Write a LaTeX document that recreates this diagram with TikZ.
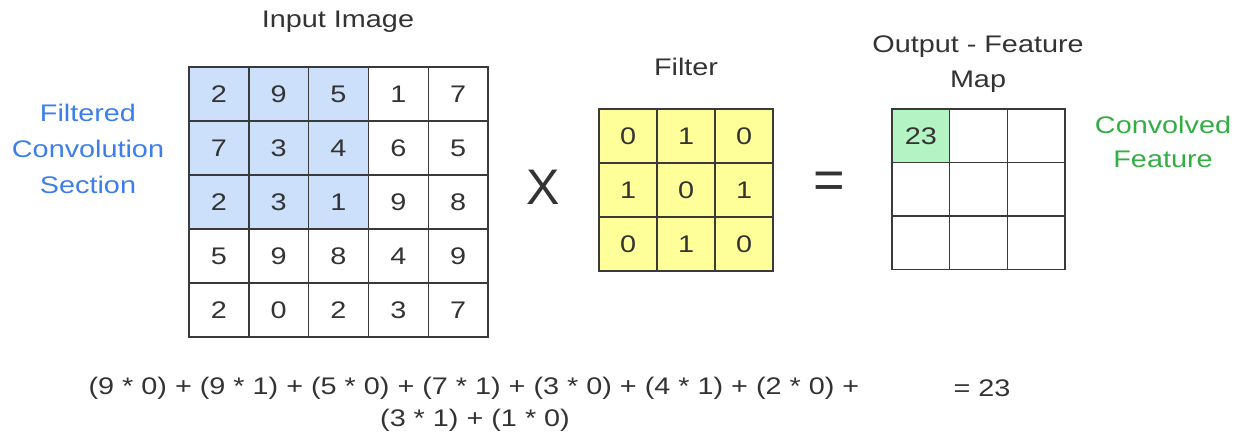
\documentclass[tikz,border=0pt]{standalone}
\usepackage{fontspec}
\setmainfont{Liberation Sans}
\usepackage{graphicx}
\definecolor{txt}{HTML}{333333}
\definecolor{gridc}{HTML}{3A3A3A}
\definecolor{bluefill}{HTML}{CCE0FC}
\definecolor{yellowfill}{HTML}{FFFF99}
\definecolor{greenfill}{HTML}{B3F3C4}
\definecolor{bluetxt}{HTML}{3D7EEA}
\definecolor{greentxt}{HTML}{33AE44}
\newcommand{\wtxt}[1]{\scalebox{1.2}[1]{#1}}
\newcommand{\fs}{\fontsize{24pt}{36pt}\selectfont}
\begin{document}
\begin{tikzpicture}[x=1pt,y=-1pt,
  cellbox/.style={draw=gridc,line width=1.4pt,minimum width=#1,inner sep=0pt,text=txt,font=\fs},
  lbl/.style={text=txt,font=\fs,inner sep=0pt,align=center}]
\useasboundingbox (0,0) rectangle (1249,438);
% input image 5x5
\foreach \r/\row in {1/{2,9,5,1,7},2/{7,3,4,6,5},3/{2,3,1,9,8},4/{5,9,8,4,9},5/{2,0,2,3,7}}{
  \foreach \v [count=\c] in \row {
    \pgfmathtruncatemacro{\isin}{(\r<4)&&(\c<4)}
    \ifnum\isin=1 \def\fc{bluefill}\else\def\fc{white}\fi
    \node[cellbox=59.8pt,minimum height=54pt,fill=\fc] (in-\r-\c) at ({189+59.8*(\c-0.5)},{67+54*(\r-0.5)}) {\wtxt{\v}};
  }
}
% filter 3x3
\foreach \r/\row in {1/{0,1,0},2/{1,0,1},3/{0,1,0}}{
  \foreach \v [count=\c] in \row {
    \node[cellbox=58pt,minimum height=54pt,fill=yellowfill] (f-\r-\c) at ({599+58*(\c-0.5)},{109+54*(\r-0.5)}) {\wtxt{\v}};
  }
}
% output 3x3
\foreach \r in {1,2,3}{
  \foreach \c in {1,2,3}{
    \node[cellbox=57.7pt,minimum height=53.5pt,fill=white] (o-\r-\c) at ({892+57.7*(\c-0.5)},{109+53.5*(\r-0.5)}) {};
  }
}
\node[cellbox=57.7pt,minimum height=53.5pt,fill=greenfill] (o-1-1b) at (o-1-1) {\wtxt{23}};
% labels
\node[lbl] (inlbl) at (338,22) {\wtxt{Input Image}};
\node[lbl] (flbl) at (686,67) {\wtxt{Filter}};
\node[lbl] (olbl1) at (978,47) {\wtxt{Output - Feature}};
\node[lbl] (olbl2) at (978,82) {\wtxt{Map}};
\node[lbl,text=bluetxt] (fcs1) at (88,113) {\wtxt{Filtered}};
\node[lbl,text=bluetxt] (fcs2) at (88,149) {\wtxt{Convolution}};
\node[lbl,text=bluetxt] (fcs3) at (88,185) {\wtxt{Section}};
\node[lbl,text=greentxt] (cf1) at (1163,125) {\wtxt{Convolved}};
\node[lbl,text=greentxt] (cf2) at (1163,159) {\wtxt{Feature}};
\node[text=txt,inner sep=0pt,font=\fontsize{50pt}{60pt}\selectfont] (times) at (543,187) {X};
\node[text=txt,inner sep=0pt,font=\fontsize{54pt}{60pt}\selectfont] (eq) at (829,185) {=};
\node[lbl] (eqn1) at (474,388) {\wtxt{(9 * 0) + (9 * 1) + (5 * 0) + (7 * 1) + (3 * 0) + (4 * 1) + (2 * 0) +}};
\node[lbl] (eqn2) at (475,420) {\wtxt{(3 * 1) + (1 * 0)}};
\node[lbl] (res) at (982,388) {\wtxt{= 23}};
\end{tikzpicture}
\end{document}
